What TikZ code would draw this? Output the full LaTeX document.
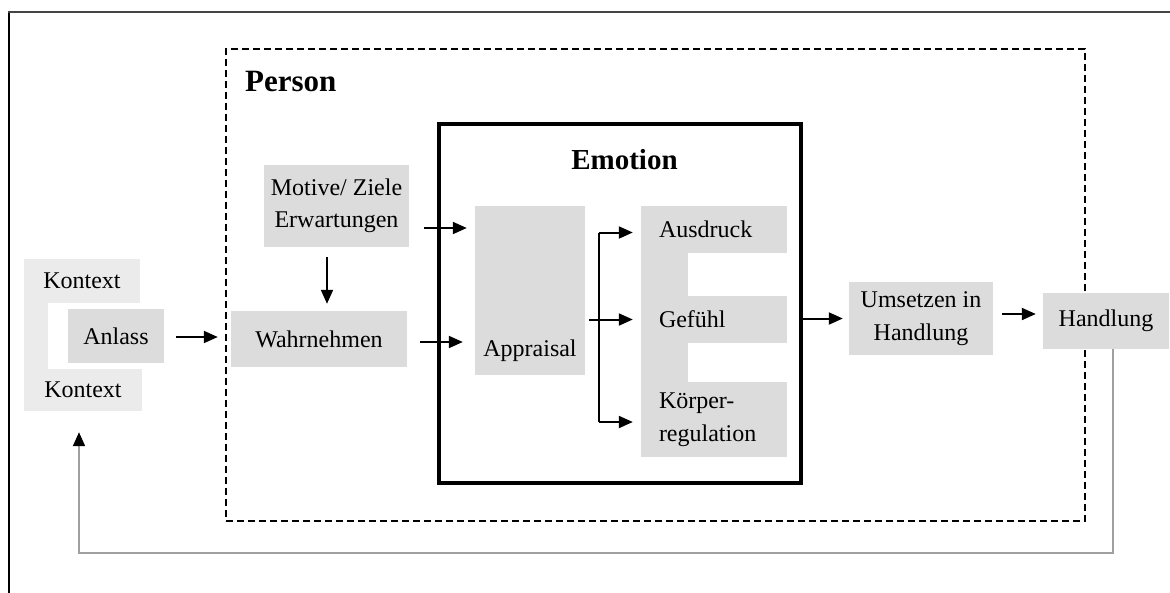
\documentclass[tikz,border=0pt]{standalone}
\usepackage{fontspec}
\setmainfont{Liberation Serif}
\usetikzlibrary{arrows.meta,calc}
\definecolor{boxgray}{HTML}{DCDCDC}
\definecolor{ctxgray}{HTML}{EBEBEB}
\definecolor{loopgray}{HTML}{A0A0A0}
\definecolor{framegray}{HTML}{444444}
\begin{document}
\begin{tikzpicture}[x=1pt,y=-1pt,
  txt/.style={font=\fontsize{24}{33}\selectfont, inner sep=0pt, text=black},
  box/.style={txt, fill=boxgray, align=center},
  ctxbox/.style={txt, fill=ctxgray, align=center},
  earm/.style={box, text width=110pt, align=left, inner xsep=18pt, inner ysep=0pt},
  arr/.style={line width=2pt, -{Triangle[length=14pt,width=12pt]}},
  plainline/.style={line width=2pt},
  loopline/.style={line width=2pt, loopgray, -{Triangle[length=14pt,width=12pt,color=black]}},
  title/.style={inner sep=0pt, font=\bfseries\fontsize{#1}{#1}\selectfont}
]
\useasboundingbox (0,0) rectangle (1170,592);

% outer frame (only top and left edges lie inside the page)
\draw[line width=2.5pt] (9,610) -- (9,12);
\draw[line width=2.5pt, framegray] (8,12) -- (1190,12);

% person boundary
\node[draw, line width=1.8pt, dash pattern=on 7pt off 4pt, inner sep=0pt,
      minimum width=859pt, minimum height=472pt, anchor=north west] (person) at (225,48) {};
\node[title=31, anchor=base west] (persontitle) at (245,91) {Person};

% emotion core
\node[draw, line width=3.5pt, inner sep=0pt,
      minimum width=362pt, minimum height=359pt, anchor=north west] (emotion) at (437,122) {};
\node[title=29, anchor=base] (emotitle) at (624.5,169) {Emotion};

% context around the trigger
\fill[ctxgray] (24,259) rectangle (48,411);
\node[ctxbox, minimum width=116pt, minimum height=44pt] (ktop) at (82,281) {Kontext};
\node[ctxbox, minimum width=118pt, minimum height=42pt] (kbot) at (83,390) {Kontext};
\node[box, minimum width=96pt, minimum height=54pt] (anlass) at (116,336) {Anlass};

% person-side stages
\node[box, minimum width=145pt, minimum height=82pt] (motive) at (336.5,206) {Motive/ Ziele\\[-1pt]Erwartungen};
\node[box, minimum width=176pt, minimum height=56pt] (wahr) at (319,339) {Wahrnehmen};
\node[box, minimum width=110pt, minimum height=169pt] (appr) at (530,290.5) {};
\node[txt, anchor=base] (apprtext) at (530,356) {Appraisal};

% E-shaped block of emotion components
\fill[boxgray] (641,206) rectangle (688,457);
\node[earm, minimum height=47pt] (aus) at (714,229.5) {Ausdruck};
\node[earm, minimum height=47pt] (gef) at (714,319.5) {Gefühl};
\node[earm, minimum height=75pt] (koe) at (714,419.5) {Körper-\\regulation};

% action stages
\node[box, minimum width=144pt, minimum height=73pt] (umsetzen) at (921,318.5) {Umsetzen in\\Handlung};
\node[box, minimum width=126pt, minimum height=56pt] (handlung) at (1106,321) {Handlung};

% connectors
\draw[arr] ($(anlass.east)+(12,1)$) -- ($(wahr.west)+(-13,-2)$);
\draw[arr] ($(motive.south)+(-9.5,10)$) -- ($(motive.south |- wahr.north)+(-9.5,-7)$);
\draw[arr] ($(motive.east)+(15,22)$) -- ($(appr.west |- motive.east)+(-8,22)$);
\draw[arr] ($(wahr.east)+(13,3)$) -- ($(appr.west |- wahr.east)+(-12,3)$);

\coordinate (fork) at (599,320);
\coordinate (ausin) at ($(aus.west)+(0,3)$);
\coordinate (koein) at ($(koe.west)+(0,2.5)$);
\draw[arr] ($(appr.east |- gef.west)+(4,0)$) -- ($(gef.west)+(-8,0)$);
\draw[plainline] (fork |- ausin) -- (fork |- koein);
\draw[arr] (fork |- ausin) -- ($(ausin)+(-8,0)$);
\draw[arr] (fork |- koein) -- ($(koein)+(-8,0)$);

\draw[arr] (emotion.east |- umsetzen.west) -- ($(umsetzen.west)+(-6,0)$);
\draw[arr] ($(umsetzen.east)+(9,-4.5)$) -- ($(handlung.west |- umsetzen.east)+(-7,-4.5)$);

% feedback from action back to the context
\draw[loopline] ($(handlung.south)+(7,0)$) -- ++(0,204) -| ($(kbot.south)+(-4,21)$);
\end{tikzpicture}
\end{document}
